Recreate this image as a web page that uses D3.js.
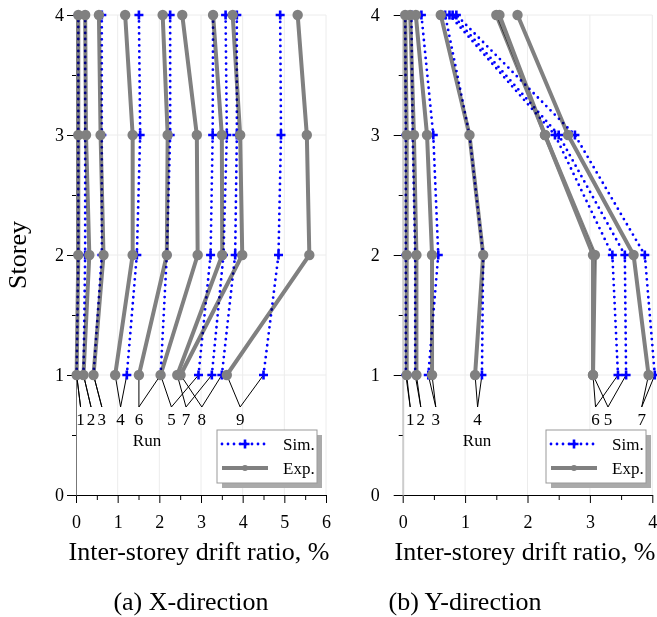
<!DOCTYPE html>
<html>
<head>
<meta charset="utf-8">
<script src="https://cdn.jsdelivr.net/npm/d3@7"></script>
<style>
  body { margin: 0; background: #fff; }
  text { font-family: "Liberation Serif", "Times New Roman", serif; }
</style>
</head>
<body>
<script>
// storeys 1..4, values in %
const storeys = [1, 2, 3, 4];

// X-direction, runs in order 1..9
const xRuns = ["1", "2", "3", "4", "5", "6", "7", "8", "9"];
const xExp = [
  [0.015, 0.055, 0.055, 0.055],
  [0.18, 0.32, 0.24, 0.22],
  [0.42, 0.66, 0.59, 0.55],
  [0.94, 1.36, 1.36, 1.18],
  [2.03, 2.92, 2.90, 2.55],
  [1.51, 2.18, 2.20, 2.08],
  [2.43, 3.51, 3.50, 3.29],
  [2.51, 3.99, 3.94, 3.76],
  [3.62, 5.60, 5.54, 5.32]
];
const xSim = [
  [0.015, 0.055, 0.055, 0.055],
  [0.18, 0.22, 0.22, 0.22],
  [0.42, 0.62, 0.62, 0.62],
  [1.22, 1.46, 1.54, 1.51],
  [2.94, 3.23, 3.28, 3.29],
  [2.03, 2.18, 2.26, 2.26],
  [3.26, 3.54, 3.62, 3.59],
  [3.50, 3.82, 3.86, 3.86],
  [4.50, 4.86, 4.92, 4.90]
];
const xLabelPos = [0.11, 0.36, 0.62, 1.07, 2.29, 1.51, 2.64, 3.02, 3.94];

// Y-direction, runs in order 1..7
const yRuns = ["1", "2", "3", "4", "5", "6", "7"];
const yExp = [
  [0.064, 0.064, 0.064, 0.04],
  [0.22, 0.22, 0.18, 0.12],
  [0.47, 0.47, 0.39, 0.21],
  [1.16, 1.29, 1.07, 0.61],
  [3.05, 3.08, 2.28, 1.50],
  [3.05, 3.05, 2.28, 1.55],
  [3.94, 3.70, 2.65, 1.84]
];
const ySim = [
  [0.05, 0.05, 0.05, 0.04],
  [0.20, 0.20, 0.16, 0.14],
  [0.41, 0.57, 0.49, 0.30],
  [1.27, 1.29, 1.07, 0.68],
  [3.58, 3.56, 2.50, 0.80],
  [3.45, 3.36, 2.44, 0.75],
  [4.04, 3.88, 2.76, 0.86]
];
const yLabelPos = [0.12, 0.29, 0.53, 1.20, 3.29, 3.09, 3.83];

const expColor = "#808080";
const simColor = "#0000ff";

const svg = d3.select("body").append("svg")
  .attr("width", 657).attr("height", 617)
  .style("background", "#fff");

const y = d3.scaleLinear().domain([0, 4]).range([495, 15]);
const plusPath = "M-4.5,0H4.5M0,-4.5V4.5";

function drawPanel(p) {
  const x = d3.scaleLinear().domain([0, p.xMax]).range([p.x0, p.x1]);
  const g = svg.append("g");

  // grid
  g.selectAll(".gx").data(d3.range(1, p.xMax + 1)).join("line")
    .attr("x1", d => x(d)).attr("x2", d => x(d))
    .attr("y1", y(0)).attr("y2", y(4))
    .attr("stroke", "#ececec");
  g.selectAll(".gy").data(storeys).join("line")
    .attr("x1", x(0)).attr("x2", x(p.xMax))
    .attr("y1", d => y(d)).attr("y2", d => y(d))
    .attr("stroke", "#ececec");

  // axes
  const ax = g.append("g").attr("transform", `translate(0,${y(0)})`)
    .call(d3.axisBottom(x).tickValues(d3.range(0, p.xMax + 1)).tickFormat(d3.format("d"))
      .tickSize(8).tickPadding(12).tickSizeOuter(0));
  g.append("g").attr("transform", `translate(0,${y(0)})`)
    .call(d3.axisBottom(x).tickValues(d3.range(0.5, p.xMax, 1)).tickSize(5).tickFormat("").tickSizeOuter(0))
    .select(".domain").remove();
  const ay = g.append("g").attr("transform", `translate(${x(0)},0)`)
    .call(d3.axisLeft(y).tickValues([0, 1, 2, 3, 4]).tickFormat(d3.format("d"))
      .tickSize(9).tickPadding(p.yPad).tickSizeOuter(0));
  g.append("g").attr("transform", `translate(${x(0)},0)`)
    .call(d3.axisLeft(y).tickValues([0.5, 1.5, 2.5, 3.5]).tickSize(4).tickFormat("").tickSizeOuter(0))
    .select(".domain").remove();
  ax.select(".domain").attr("stroke", "#000").attr("stroke-width", 1.2);
  ay.select(".domain").attr("stroke", p.yAxisColor).attr("stroke-width", p.yAxisWidth);
  ay.selectAll(".tick").filter(d => d === 0).select("line").attr("stroke", "#000");
  g.selectAll(".tick text").attr("font-size", "18px").attr("fill", "#000")
    .style("font-family", "'Liberation Serif', serif");

  const line = d3.line().x(d => x(d[0])).y(d => y(d[1]));
  const pts = vals => vals.map((v, i) => [v, storeys[i]]);

  // leader lines to run labels
  const apexY = 407;
  p.runs.forEach((r, i) => {
    const ax0 = x(p.labelPos[i]);
    [p.exp[i][0], p.sim[i][0]].forEach(v => {
      g.append("line")
        .attr("x1", x(v)).attr("y1", y(1))
        .attr("x2", ax0).attr("y2", apexY)
        .attr("stroke", "#000").attr("stroke-width", 1);
    });
    g.append("text").attr("x", ax0).attr("y", 425)
      .attr("text-anchor", "middle").attr("font-size", "17px").text(r);
  });
  g.append("text").attr("x", p.runX).attr("y", 446)
    .attr("text-anchor", "middle").attr("font-size", "17px").text("Run");

  // experiment lines
  p.exp.forEach((vals, i) => {
    g.append("path").datum(pts(vals)).attr("d", line)
      .attr("fill", "none").attr("stroke", expColor)
      .attr("stroke-width", 4).attr("stroke-linejoin", "round");
    if (p.darkRun === i) {
      g.append("path").datum(pts(vals)).attr("d", line)
        .attr("fill", "none").attr("stroke", "#3a3a3a").attr("stroke-width", 1);
    }
  });

  // simulation lines
  p.sim.forEach(vals => {
    g.append("path").datum(pts(vals)).attr("d", line)
      .attr("fill", "none").attr("stroke", simColor)
      .attr("stroke-width", 2.8).attr("stroke-dasharray", "0 6")
      .attr("stroke-linecap", "round")
      .style("mix-blend-mode", "multiply");
  });
  p.sim.forEach(vals => {
    g.selectAll(null).data(pts(vals)).join("path")
      .attr("transform", d => `translate(${x(d[0])},${y(d[1])})`)
      .attr("d", plusPath).attr("stroke", simColor).attr("stroke-width", 2.6);
  });
  p.exp.forEach(vals => {
    g.selectAll(null).data(pts(vals)).join("circle")
      .attr("cx", d => x(d[0])).attr("cy", d => y(d[1])).attr("r", 5.2)
      .attr("fill", expColor);
  });

  // legend
  const lx = p.legX, ly = 430, lw = 100, lh = 53;
  g.append("rect").attr("x", lx + 5).attr("y", ly + 5).attr("width", lw).attr("height", lh).attr("fill", "#aaa");
  g.append("rect").attr("x", lx).attr("y", ly).attr("width", lw).attr("height", lh)
    .attr("fill", "#fff").attr("stroke", "#999");
  g.append("line").attr("x1", lx + 5).attr("x2", lx + 50).attr("y1", ly + 14).attr("y2", ly + 14)
    .attr("stroke", simColor).attr("stroke-width", 2.8).attr("stroke-dasharray", "0 6")
    .attr("stroke-linecap", "round");
  g.append("path").attr("transform", `translate(${lx + 28},${ly + 14})`).attr("d", plusPath)
    .attr("stroke", simColor).attr("stroke-width", 2.6);
  g.append("line").attr("x1", lx + 5).attr("x2", lx + 51).attr("y1", ly + 38).attr("y2", ly + 38)
    .attr("stroke", expColor).attr("stroke-width", 4);
  g.append("circle").attr("cx", lx + 28).attr("cy", ly + 38).attr("r", 3).attr("fill", expColor);
  g.append("text").attr("x", lx + 66).attr("y", ly + 20).attr("font-size", "17px").text("Sim.");
  g.append("text").attr("x", lx + 66).attr("y", ly + 44).attr("font-size", "17px").text("Exp.");

  // titles
  g.append("text").attr("x", p.titleX).attr("y", 560).attr("text-anchor", "middle")
    .attr("font-size", "26px").text("Inter-storey drift ratio, %");
  g.append("text").attr("x", p.capX).attr("y", 610).attr("text-anchor", "middle")
    .attr("font-size", "26px").text(p.caption);
}

drawPanel({
  xMax: 6, x0: 76, x1: 326, yPad: 3, yAxisColor: "#777", yAxisWidth: 1,
  runs: xRuns, exp: xExp, sim: xSim, labelPos: xLabelPos, runX: 147,
  legX: 217, titleX: 199, capX: 191, caption: "(a) X-direction", darkRun: -1
});
drawPanel({
  xMax: 4, x0: 402.7, x1: 652.3, yPad: 14, yAxisColor: "#ccc", yAxisWidth: 2,
  runs: yRuns, exp: yExp, sim: ySim, labelPos: yLabelPos, runX: 477,
  legX: 546, titleX: 525, capX: 465, caption: "(b) Y-direction", darkRun: 4
});

svg.append("text").attr("transform", "translate(26,255) rotate(-90)")
  .attr("text-anchor", "middle").attr("font-size", "26px").text("Storey");
</script>
</body>
</html>
